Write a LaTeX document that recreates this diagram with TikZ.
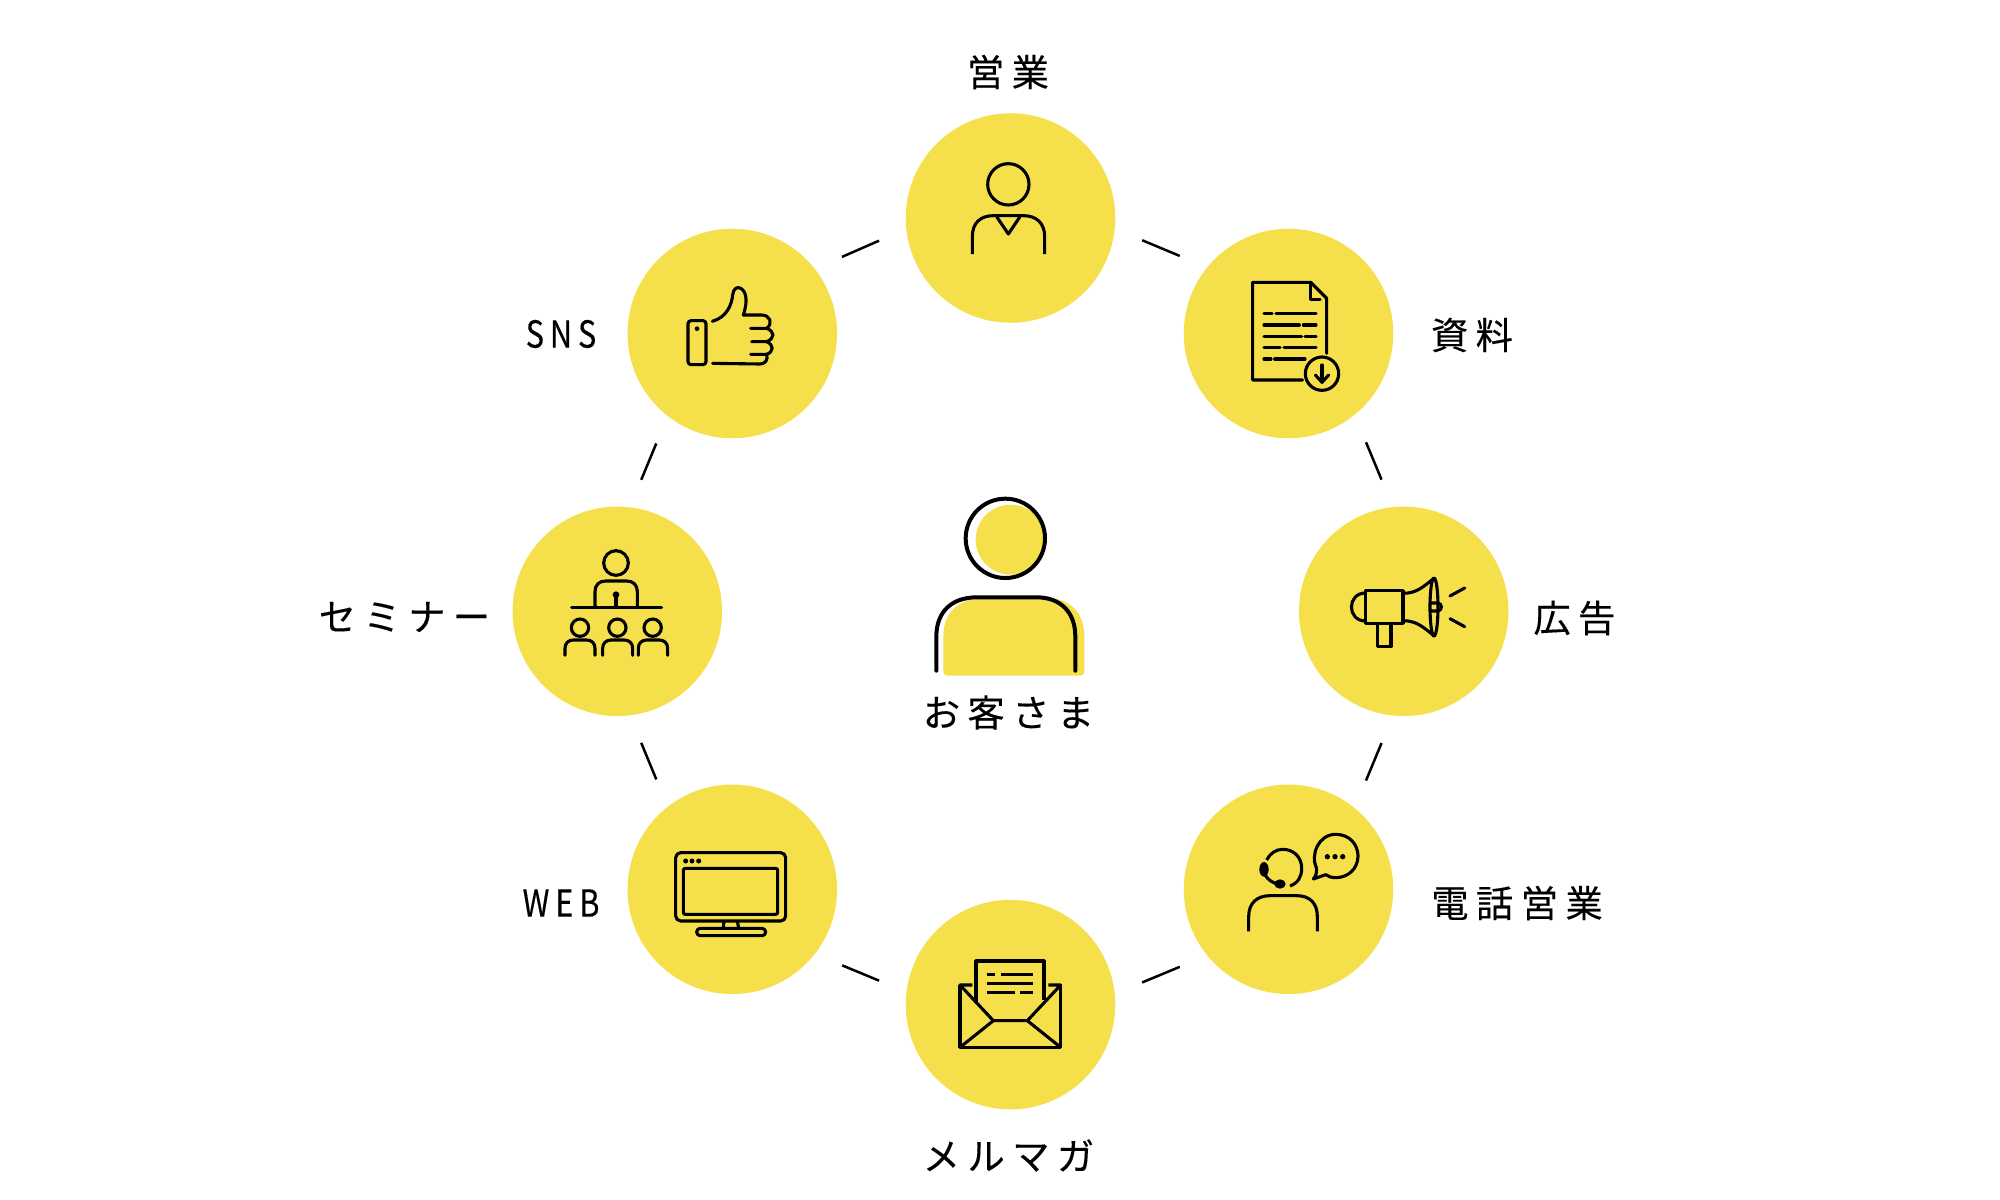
\documentclass[tikz,border=0pt]{standalone}
\usepackage{fontspec}
\newfontfamily\jpfont[LetterSpace=20,FakeBold=0.25]{Noto Sans CJK JP}
\newfontfamily\latinfont[LetterSpace=16,FakeStretch=0.82,FakeBold=0.25]{Noto Sans CJK JP}
\definecolor{markyellow}{HTML}{F5E04B}
\tikzset{
  channel/.style={circle,fill=markyellow,minimum size=2.094cm,inner sep=0pt},
  jplabel/.style={inner sep=0pt,font=\jpfont\fontsize{10.6}{12}\selectfont},
  latinlabel/.style={inner sep=0pt,font=\latinfont\fontsize{10.6}{12}\selectfont},
  link/.style={line width=.025cm,shorten <=.29cm,shorten >=.29cm},
  icon/.style={shift={#1},scale=.33333,line width=.031cm,line join=round},
}
\begin{document}
\begin{tikzpicture}[x=.01cm,y=-.01cm]
\useasboundingbox (0,0) rectangle (2000,1200);

\node[channel] (sales) at (1010.5,218) {};
\node[channel] (docs) at (1288.5,333.5) {};
\node[channel] (ads) at (1403.7,611.3) {};
\node[channel] (phone) at (1288.5,889.3) {};
\node[channel] (mail) at (1010.5,1004.6) {};
\node[channel] (web) at (732.3,889.3) {};
\node[channel] (seminar) at (617.3,611.3) {};
\node[channel] (sns) at (732.3,333.5) {};

\foreach \from/\fromangle/\to/\toangle in {
  sales/-6.5/docs/141.5,docs/-51.5/ads/96.5,ads/-96.5/phone/51.5,phone/-141.5/mail/6.5,
  mail/173.5/web/-38.5,web/128.5/seminar/-83.5,seminar/83.5/sns/-128.5,sns/38.5/sales/186.5}
  \draw[link] (\from.\fromangle) -- (\to.\toangle);

\node[jplabel] (saleslabel) at (1008,72) {営業};
\node[jplabel] (docslabel) at (1472,335) {資料};
\node[jplabel] (adslabel) at (1574.5,618) {広告};
\node[jplabel] (phonelabel) at (1517,903) {電話営業};
\node[jplabel] (maillabel) at (1008.5,1155.5) {メルマガ};
\node[latinlabel] (weblabel) at (561,903) {WEB};
\node[jplabel] (seminarlabel) at (404.5,617) {セミナー};
\node[latinlabel] (snslabel) at (561,334) {SNS};
\node[jplabel] (clientlabel) at (1008.5,712.5) {お客さま};

% customer
\begin{scope}[icon={(900,480)}]
\fill[markyellow] (332,179) circle[radius=105];
\fill[markyellow,rounded corners=.04cm] (130,587) -- (130,480) .. controls (130,400) and (175,358) .. (245,357)
  -- (435,355) .. controls (510,355) and (553,400) .. (553,480) -- (553,587) -- cycle;
\draw[line width=.04cm] (316,175) circle[radius=119];
\draw[line width=.04cm,line cap=round] (109,572) -- (109,470) .. controls (109,395) and (155,352) .. (230,352)
  -- (410,352) .. controls (480,352) and (526,395) .. (526,470) -- (526,572);
\end{scope}

% sales
\begin{scope}[icon={(880,100)}]
\draw (385,253) circle[radius=62];
\draw (277,462) -- (277,410) .. controls (277,370) and (300,347) .. (340,347) -- (430,347)
  .. controls (470,347) and (494,370) .. (494,410) -- (494,462);
\draw (350,350) -- (385,402) -- (420,350);
\end{scope}

% documents
\begin{scope}[icon={(1170,220)},line cap=round]
\draw (398,480) -- (248,480) -- (248,187) -- (422,187) -- (470,235) -- (470,400);
\draw (422,190) -- (422,238) -- (450,238);
\foreach \y/\a/\b/\c/\d in {281/282/306/318/438,315/282/388/400/438,349/282/395/405/438,383/282/330/342/438,417/282/303/314/405}{
  \draw (\a,\y) -- (\b,\y);
  \draw (\c,\y) -- (\d,\y);
}
\draw (456,461) circle[radius=50];
\draw (456,435) -- (456,485);
\draw (436,465) -- (456,487) -- (476,465);
\end{scope}

% megaphone
\begin{scope}[icon={(1290,500)},line cap=round]
\draw (227,272) rectangle (339,370);
\draw (227,279) .. controls (170,279) and (170,363) .. (227,363);
\draw (262,372) -- (262,440) -- (303,440) -- (303,372);
\draw (339,280) .. controls (380,280) and (400,260) .. (432,235);
\draw (339,362) .. controls (380,362) and (400,382) .. (432,407);
\draw (432,321) ellipse[x radius=12,y radius=87];
\draw (420,309) -- (443,309) .. controls (458,309) and (458,333) .. (443,333) -- (420,333);
\draw (480,288) -- (524,264);
\draw (480,356) -- (524,380);
\end{scope}

% phone
\begin{scope}[icon={(1170,780)}]
\draw (236,454) -- (236,410) .. controls (236,370) and (260,347) .. (300,347) -- (380,347)
  .. controls (420,347) and (442,370) .. (442,410) -- (442,454);
\draw (360,318) .. controls (385,308) and (395,290) .. (395,265) .. controls (395,230) and (370,208) .. (338,208)
  .. controls (318,208) and (300,220) .. (290,240);
\draw (285,285) .. controls (295,300) and (310,312) .. (330,312);
\fill (282,268) ellipse[x radius=14,y radius=22];
\fill (330,312) ellipse[x radius=17,y radius=14];
\draw (440,266) .. controls (420,225) and (445,163) .. (497,163) .. controls (540,163) and (564,195) .. (564,228)
  .. controls (564,265) and (535,293) .. (497,293) .. controls (485,293) and (475,290) .. (467,284) -- (430,297) .. controls (438,287) and (441,277) .. (440,266);
\foreach \x in {472,495,518}
  \fill (\x,230) circle[radius=8];
\end{scope}

% newsletter
\begin{scope}[icon={(890,900)}]
\draw (210,255) -- (210,442) -- (512,442) -- (512,255);
\draw (247,255) -- (210,255) -- (310,362) -- (412,362) -- (512,255) -- (475,255);
\draw (210,442) -- (310,362);
\draw (512,442) -- (412,362);
\draw (258,310) -- (258,183) -- (462,183) -- (462,300);
\foreach \y/\a/\b/\c/\d in {224/290/315/333/430,251/290/355/355/430,277/290/375/390/430}{
  \draw (\a,\y) -- (\b,\y);
  \draw (\c,\y) -- (\d,\y);
}
\end{scope}

% web
\begin{scope}[icon={(620,780)}]
\draw[rounded corners=.05cm] (167,218) rectangle (497,423);
\draw[rounded corners=.02cm] (190,265) rectangle (473,403);
\foreach \x in {197,216,236}
  \fill (\x,243) circle[radius=7.5];
\draw (312,423) -- (310,445);
\draw (352,423) -- (356,445);
\draw[rounded corners=.036cm] (230,445) rectangle (437,467);
\end{scope}

% seminar
\begin{scope}[icon={(500,500)},line cap=round]
\draw (348,189) circle[radius=37];
\draw (285,322) -- (285,275) .. controls (285,255) and (297,243) .. (317,243) -- (380,243)
  .. controls (400,243) and (412,255) .. (412,275) -- (412,322);
\draw (215,322) -- (485,322);
\fill (348,284) circle[radius=10];
\draw (348,284) -- (348,322);
\foreach \x/\left/\right in {240/195/285,352/308/398,458/415/503}{
  \draw (\x,383) circle[radius=26];
  \draw (\left,466) -- (\left,445) .. controls (\left,430) and (\left+10,420) .. (\left+25,420) -- (\right-25,420)
    .. controls (\right-10,420) and (\right,430) .. (\right,445) -- (\right,466);
}
\end{scope}

% sns
\begin{scope}[icon={(620,220)},line cap=round]
\draw[rounded corners=.03cm] (204,302) rectangle (258,434);
\fill (231,326) circle[radius=7];
\draw (277,304) .. controls (320,292) and (335,255) .. (338,225) .. controls (340,205) and (352,200) .. (360,204)
  .. controls (378,212) and (385,240) .. (370,285) -- (425,285) .. controls (450,285) and (460,310) .. (440,325) -- (392,325);
\draw (440,325) .. controls (465,335) and (465,355) .. (440,365) -- (395,365);
\draw (440,365) .. controls (462,375) and (462,395) .. (440,403) -- (392,403);
\draw (440,403) .. controls (445,420) and (435,432) .. (420,432) -- (278,430);
\end{scope}
\end{tikzpicture}
\end{document}
